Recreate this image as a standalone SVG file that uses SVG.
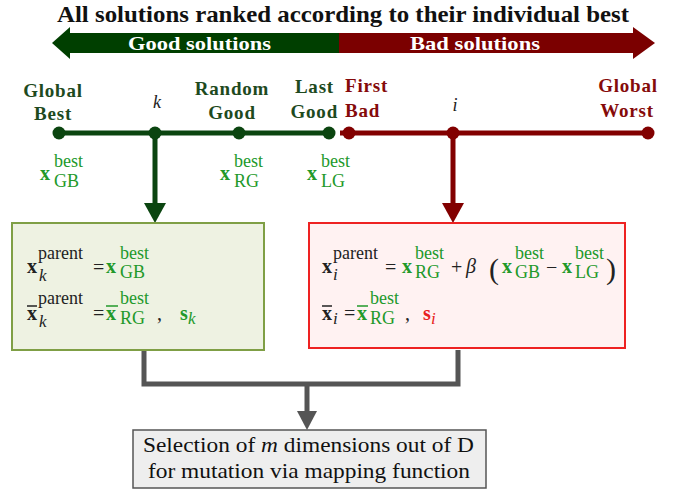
<svg xmlns="http://www.w3.org/2000/svg" width="685" height="491" viewBox="0 0 685 491">
<defs>
<style>
text{font-family:"Liberation Serif","DejaVu Serif",serif}
.b{font-weight:bold}
.i{font-style:italic}
.lg{font-weight:bold;font-size:19px;letter-spacing:0.8px}
.gd{fill:#1e4a1e}
.bd{fill:#850a0a}
.gm{fill:#22992a}
.mx{font-weight:bold;font-size:20px}
.sp{font-size:18px}
.ix{font-style:italic;font-size:17px}
.op{font-size:20px;fill:#222}
.bar{stroke-width:1.5}
</style>
</defs>
<rect width="685" height="491" fill="#ffffff"/>

<g id="title">
<text class="b" x="57" y="22" font-size="24" textLength="572" lengthAdjust="spacingAndGlyphs" fill="#111">All solutions ranked according to their individual best</text>
</g>

<g id="ranking-arrow">
<polygon points="52,43 70,27 70,33 339,33 339,53 70,53 70,59" fill="#003f00"/>
<polygon points="655,43 633,27 633,33 339,33 339,53 633,53 633,59" fill="#7b0000"/>
<text class="b" x="128" y="50" font-size="19" textLength="143" lengthAdjust="spacingAndGlyphs" fill="#ffffff">Good solutions</text>
<text class="b" x="410" y="50" font-size="19" textLength="130" lengthAdjust="spacingAndGlyphs" fill="#ffffff">Bad solutions</text>
</g>

<g id="connectors">
<line x1="59" y1="133" x2="332" y2="133" stroke="#0b4510" stroke-width="5"/>
<line x1="340" y1="133" x2="648" y2="133" stroke="#820000" stroke-width="5"/>
<line x1="155" y1="133" x2="155" y2="205" stroke="#0b4510" stroke-width="5"/>
<polygon points="144,203 166,203 155,223" fill="#0b4510"/>
<line x1="453" y1="133" x2="453" y2="205" stroke="#820000" stroke-width="5"/>
<polygon points="442,203 464,203 453,223" fill="#820000"/>
<polyline points="144,350 144,384 458,384 458,350" fill="none" stroke="#555555" stroke-width="5"/>
<line x1="307" y1="384" x2="307" y2="414" stroke="#555555" stroke-width="5"/>
<polygon points="297,411 317,411 307,430" fill="#555555"/>
</g>

<g id="node-global-best">
<circle cx="59" cy="133" r="6.5" fill="#0b4510"/>
<text class="lg gd" x="53" y="97" text-anchor="middle">Global</text>
<text class="lg gd" x="53" y="120" text-anchor="middle">Best</text>
<text class="mx gm" x="40" y="180" font-size="26">x</text>
<text class="sp gm" x="54" y="167" font-size="19">best</text>
<text class="sp gm" x="54" y="187" font-size="19">GB</text>
</g>

<g id="node-k">
<circle cx="155" cy="133" r="6.5" fill="#0b4510"/>
<text class="i" x="157" y="108" font-size="18" text-anchor="middle" fill="#222">k</text>
</g>

<g id="node-random-good">
<circle cx="239" cy="133" r="6.5" fill="#0b4510"/>
<text class="lg gd" x="232" y="95" text-anchor="middle">Random</text>
<text class="lg gd" x="232" y="119" text-anchor="middle">Good</text>
<text class="mx gm" x="220" y="180" font-size="26">x</text>
<text class="sp gm" x="234" y="167" font-size="19">best</text>
<text class="sp gm" x="234" y="187" font-size="19">RG</text>
</g>

<g id="node-last-good">
<circle cx="329" cy="133" r="6.5" fill="#0b4510"/>
<text class="lg gd" x="334" y="93" text-anchor="end">Last</text>
<text class="lg gd" x="338" y="118" text-anchor="end">Good</text>
<text class="mx gm" x="307" y="180" font-size="26">x</text>
<text class="sp gm" x="321" y="167" font-size="19">best</text>
<text class="sp gm" x="321" y="187" font-size="19">LG</text>
</g>

<g id="node-first-bad">
<circle cx="349" cy="133" r="6.5" fill="#820000"/>
<text class="lg bd" x="345" y="92">First</text>
<text class="lg bd" x="345" y="117">Bad</text>
</g>

<g id="node-i">
<circle cx="453" cy="133" r="6.5" fill="#820000"/>
<text class="i" x="455" y="111" font-size="18" text-anchor="middle" fill="#222">i</text>
</g>

<g id="node-global-worst">
<circle cx="648" cy="133" r="6.5" fill="#820000"/>
<text class="lg bd" x="628" y="92" text-anchor="middle">Global</text>
<text class="lg bd" x="627" y="117" text-anchor="middle">Worst</text>
</g>

<g id="box-good">
<rect x="12" y="223" width="252" height="127" fill="#eef2e2" stroke="#7f9f45" stroke-width="2"/>
<text class="mx" x="27" y="273" fill="#222">x</text>
<text class="sp" x="38" y="259" font-size="17" fill="#222">parent</text>
<text class="ix" x="39" y="281" fill="#222">k</text>
<text class="op" x="93" y="274">=</text>
<text class="mx gm" x="106" y="273">x</text>
<text class="sp gm" x="120" y="259">best</text>
<text class="sp gm" x="120" y="278">GB</text>

<text class="mx" x="27" y="320" fill="#222">x</text>
<line class="bar" x1="27" y1="306" x2="37" y2="306" stroke="#222"/>
<text class="sp" x="38" y="304" font-size="17" fill="#222">parent</text>
<text class="ix" x="39" y="327" fill="#222">k</text>
<text class="op" x="93" y="320">=</text>
<text class="mx gm" x="106" y="320">x</text>
<line class="bar" x1="106" y1="306" x2="118" y2="306" stroke="#22992a"/>
<text class="sp gm" x="120" y="304">best</text>
<text class="sp gm" x="120" y="324">RG</text>
<text class="op" x="157" y="320">,</text>
<text class="mx gm" x="180" y="320">s</text>
<text class="ix gm" x="188" y="324">k</text>
</g>

<g id="box-bad">
<rect x="309" y="223" width="316" height="125" fill="#fff2f2" stroke="#ee2222" stroke-width="2"/>
<text class="mx" x="322" y="273" fill="#222">x</text>
<text class="sp" x="333" y="259" font-size="17" fill="#222">parent</text>
<text class="ix" x="333" y="280" fill="#222">i</text>
<text class="op" x="385" y="274">=</text>
<text class="mx gm" x="402" y="273">x</text>
<text class="sp gm" x="415" y="259">best</text>
<text class="sp gm" x="415" y="278">RG</text>
<text class="op" x="451" y="274">+</text>
<text class="i" x="466" y="273" font-size="20" fill="#222">β</text>
<text x="489" y="279" font-size="30" fill="#222">(</text>
<text class="mx gm" x="502" y="273">x</text>
<text class="sp gm" x="515" y="259">best</text>
<text class="sp gm" x="515" y="278">GB</text>
<text class="op" x="546" y="274">−</text>
<text class="mx gm" x="562" y="273">x</text>
<text class="sp gm" x="575" y="259">best</text>
<text class="sp gm" x="575" y="278">LG</text>
<text x="606" y="279" font-size="30" fill="#222">)</text>

<text class="mx" x="322" y="320" fill="#222">x</text>
<line class="bar" x1="322" y1="306" x2="332" y2="306" stroke="#222"/>
<text class="ix" x="333" y="324" fill="#222">i</text>
<text class="op" x="344" y="320">=</text>
<text class="mx gm" x="357" y="320">x</text>
<line class="bar" x1="357" y1="306" x2="368" y2="306" stroke="#22992a"/>
<text class="sp gm" x="370" y="304">best</text>
<text class="sp gm" x="370" y="324">RG</text>
<text class="op" x="405" y="320">,</text>
<text class="mx" x="423" y="320" fill="#e82020">s</text>
<text class="ix" x="431" y="324" fill="#e82020">i</text>
</g>

<g id="box-selection">
<rect x="133" y="430" width="353" height="58" fill="#eeeeee" stroke="#555555" stroke-width="1.5"/>
<text x="143" y="452" font-size="21" textLength="331" lengthAdjust="spacingAndGlyphs" fill="#111">Selection of <tspan font-style="italic">m</tspan> dimensions out of D</text>
<text x="148" y="478" font-size="21" textLength="322" lengthAdjust="spacingAndGlyphs" fill="#111">for mutation via mapping function</text>
</g>
</svg>
